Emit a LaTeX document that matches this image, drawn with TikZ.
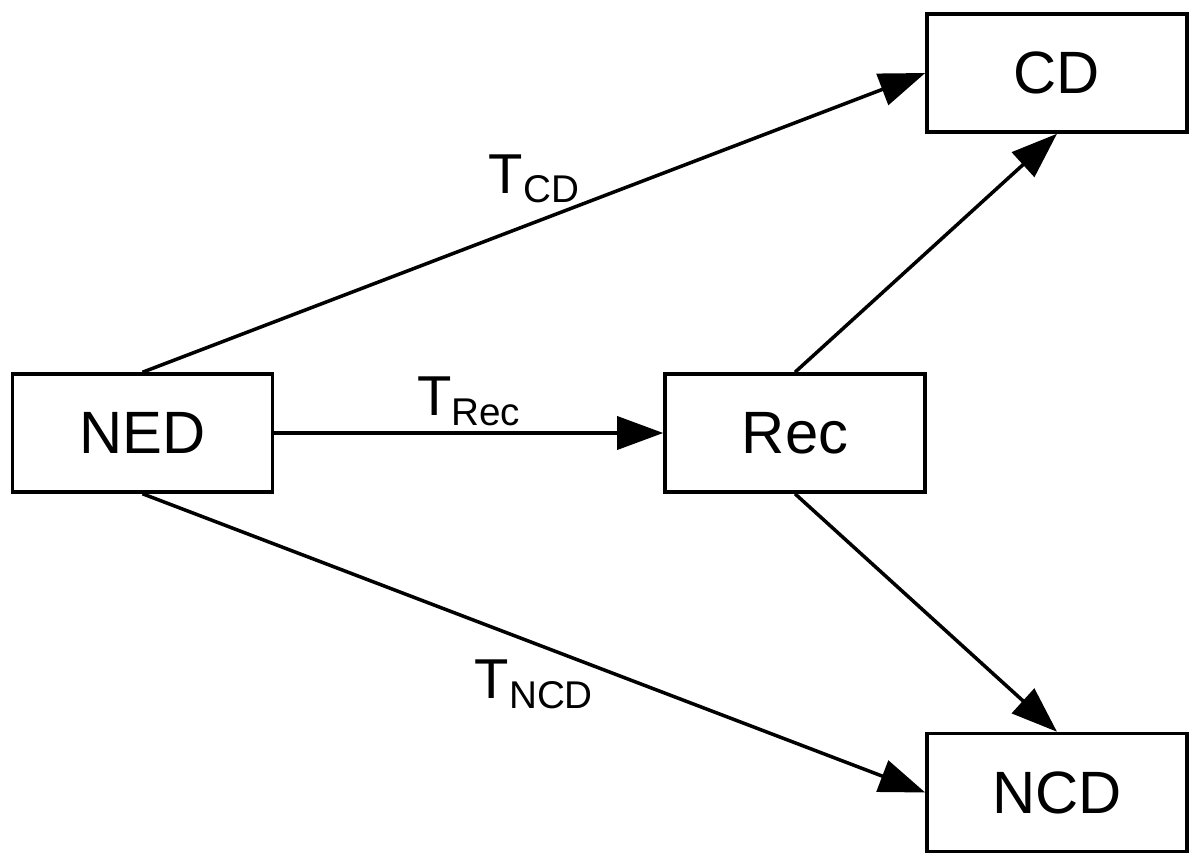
\documentclass[tikz,border=0pt]{standalone}
\usepackage{fontspec}
\setmainfont{Liberation Sans}
\usetikzlibrary{arrows.meta}
\tikzset{
  box/.style={draw, line width=1pt, minimum width=2.6cm, minimum height=1.18cm, inner sep=0pt, font=\fontsize{17}{20}\selectfont},
  link/.style={line width=1pt, -{Triangle[length=4.6mm,width=3.3mm]}},
  tlabel/.style={inner sep=1pt, font=\fontsize{16}{19}\selectfont}
}
\newcommand{\tsub}[1]{T\raisebox{-2.8pt}{\fontsize{11}{13}\selectfont #1}}
\begin{document}
\begin{tikzpicture}
\useasboundingbox (0,0) rectangle (12,8.65);

% States
\node[box] (ned) at (1.425,4.32) {NED};
\node[box] (rec) at (7.95,4.32) {Rec};
\node[box] (cd) at (10.57,7.92) {CD};
\node[box] (ncd) at (10.57,0.725) {NCD};

% Transitions
\draw[link] (ned.north) -- (cd.west) node[midway,above=4pt,tlabel] {\tsub{CD}};
\draw[link] (ned.east) -- (rec.west) node[midway,above=0.5pt,tlabel] {\tsub{Rec}};
\draw[link] (ned.south) -- (ncd.west) node[midway,below=3.3pt,tlabel] {\tsub{NCD}};
\draw[link] (rec.north) -- (cd.south);
\draw[link] (rec.south) -- (ncd.north);

\end{tikzpicture}
\end{document}
